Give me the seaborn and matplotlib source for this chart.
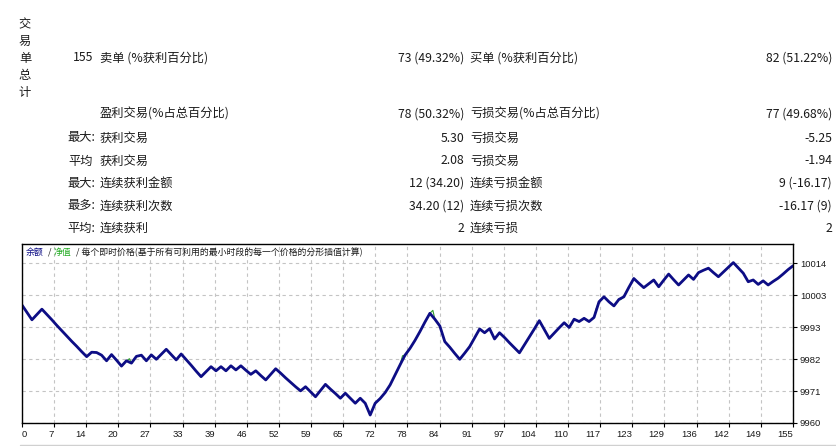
import matplotlib

matplotlib.use("Agg")

import matplotlib.pyplot as plt
import numpy as np
import pandas as pd
import seaborn as sns

# balance after each closed trade
balance = [
    10000.0, 9997.5, 9995.0, 9996.8, 9998.6, 9996.8, 9995.0, 9993.1, 9991.3, 9989.5,
    9987.7, 9986.0, 9984.2, 9982.5, 9984.0, 9983.9, 9983.0, 9981.1, 9983.2, 9981.3,
    9979.3, 9981.1, 9980.3, 9982.6, 9983.0, 9981.1, 9983.1, 9981.6, 9983.3, 9985.0,
    9983.2, 9981.4, 9983.4, 9981.5, 9979.6, 9977.6, 9975.7, 9977.4, 9979.1, 9977.7,
    9979.1, 9977.7, 9979.4, 9978.0, 9979.4, 9977.9, 9976.5, 9977.7, 9976.1, 9974.6,
    9976.5, 9978.4, 9976.9, 9975.3, 9973.8, 9972.3, 9970.9, 9972.3, 9970.6, 9968.9,
    9971.0, 9973.1, 9971.5, 9970.0, 9968.4, 9970.1, 9968.4, 9966.7, 9968.4, 9966.7,
    9962.7, 9966.7, 9968.3, 9970.3, 9972.9, 9976.3, 9979.7, 9983.0, 9985.3, 9988.0,
    9991.0, 9994.2, 9997.2, 9995.2, 9992.9, 9987.6, 9985.7, 9983.6, 9981.6, 9983.7,
    9985.9, 9988.9, 9991.9, 9990.6, 9992.0, 9988.5, 9990.6, 9989.0, 9987.2, 9985.5,
    9983.8, 9986.5, 9989.2, 9991.9, 9994.7, 9991.7, 9988.7, 9990.5, 9992.3, 9994.0,
    9992.4, 9995.2, 9994.4, 9995.5, 9994.4, 9995.8, 10001.1, 10002.8, 10001.1, 9999.7,
    10001.9, 10002.8, 10006.0, 10009.0, 10007.4, 10005.9, 10007.2, 10008.5, 10006.2, 10008.4,
    10010.5, 10008.6, 10006.8, 10008.5, 10010.2, 10008.7, 10011.0, 10011.8, 10012.5, 10011.0,
    10009.6, 10011.2, 10012.8, 10014.4, 10012.6, 10010.8, 10007.9, 10008.5, 10007.0, 10008.2,
    10006.8, 10008.0, 10009.1, 10010.5, 10012.0, 10013.3,
]

# equity only shows where it leaves the balance line
equity_x = [21.6, 76.5, 82.6, 115.4, 120.3, 147.9]
equity_y = [9981.8, 9982.8, 9998.2, 9998.6, 10001.8, 10007.2]

x_tick_labels = ["0", "7", "14", "20", "27", "33", "39", "46", "52", "59", "65", "72", "78",
                 "84", "91", "97", "104", "110", "117", "123", "129", "136", "142", "149", "155"]
y_tick_labels = ["9960", "9971", "9982", "9993", "10003", "10014"]

header = "交易单总计"
total_trades = "155"
left_prefix = ["", "", "最大:", "平均", "最大:", "最多:", "平均:"]
left_labels = ["卖单 (%获利百分比)", "盈利交易(%占总百分比)", "获利交易", "获利交易",
               "连续获利金额", "连续获利次数", "连续获利"]
left_values = ["73 (49.32%)", "78 (50.32%)", "5.30", "2.08", "12 (34.20)", "34.20 (12)", "2"]
right_labels = ["买单 (%获利百分比)", "亏损交易(%占总百分比)", "亏损交易", "亏损交易",
                "连续亏损金额", "连续亏损次数", "连续亏损"]
right_values = ["82 (51.22%)", "77 (49.68%)", "-5.25", "-1.94", "9 (-16.17)", "-16.17 (9)", "2"]

sns.set_theme(style="white")
plt.rcParams["font.family"] = ["Noto Sans CJK SC", "DejaVu Sans"]

W, H = 837, 446
fig = plt.figure(figsize=(W / 100, H / 100), dpi=100)
fig.patch.set_facecolor("white")


def ftext(x, y, s, **kw):
    # place text by pixel position measured on the screenshot
    kw.setdefault("va", "center")
    kw.setdefault("fontsize", 8.8)
    kw.setdefault("color", "#1a1a1a")
    fig.text(x / W, 1 - y / H, s, **kw)


# stats table
for k, ch in enumerate(header):
    ftext(25, 25 + k * 16.8, ch, ha="center")
ftext(93, 58, total_trades, ha="right")

row_y = [58, 114, 138, 161, 183, 206, 228]
for y, pre, ll, lv, rl, rv in zip(row_y, left_prefix, left_labels, left_values,
                                  right_labels, right_values):
    if pre:
        ftext(81, y, pre, ha="center")
    ftext(100, y, ll, ha="left")
    ftext(464, y, lv, ha="right")
    ftext(470, y, rl, ha="left")
    ftext(832, y, rv, ha="right")

# chart
ax = fig.add_axes([22 / W, 1 - 423 / H, 771 / W, 179 / H])
bal_df = pd.DataFrame({"trade": np.arange(len(balance)), "value": balance})
eq_df = pd.concat([bal_df, pd.DataFrame({"trade": equity_x, "value": equity_y})])
eq_df = eq_df.sort_values("trade")

sns.lineplot(data=eq_df, x="trade", y="value", color="#2e9a2e", lw=0.8,
             estimator=None, ax=ax)
sns.lineplot(data=bal_df, x="trade", y="value", color="#0d0d85", lw=2.0,
             estimator=None, ax=ax)

ax.set_xlim(0, 155)
ax.set_ylim(9960, 10020.7)
ax.set_xticks(np.arange(25) * 155 / 24)
ax.set_xticklabels(x_tick_labels)
ax.set_yticks(9960 + np.arange(6) * 10.85)
ax.set_yticklabels(y_tick_labels)
ax.yaxis.tick_right()
ax.set_xlabel("")
ax.set_ylabel("")
ax.tick_params(axis="both", direction="out", length=3, width=0.8, color="black",
               labelsize=6.8, pad=2, colors="#1a1a1a")
ax.tick_params(axis="x", bottom=True)
ax.tick_params(axis="y", right=True, left=False)
for lab in ax.get_xticklabels():
    lab.set_ha("right")
    lab.set_family(["Liberation Sans", "DejaVu Sans"])
ax.get_xticklabels()[0].set_ha("left")
for lab in ax.get_yticklabels():
    lab.set_family(["Liberation Sans", "DejaVu Sans"])

ax.grid(True, color="#c4c4c4", linestyle=(0, (3, 3)), linewidth=0.8)
for sp in ax.spines.values():
    sp.set_color("black")
    sp.set_linewidth(1.0)

# chart caption inside the frame
ftext(26, 252, "余额", ha="left", fontsize=6.4, color="#0d0d85")
ftext(48, 252, "/", ha="left", fontsize=6.4)
ftext(54, 252, "净值", ha="left", fontsize=6.4, color="#1faa1f")
ftext(76, 252, "/ 每个即时价格(基于所有可利用的最小时段的每一个价格的分形插值计算)",
      ha="left", fontsize=6.4)

fig.add_artist(plt.Line2D([20 / W, 1], [1 - 445 / H] * 2, color="#d0d0d0", lw=1))

fig.savefig("out.png", dpi=100)
